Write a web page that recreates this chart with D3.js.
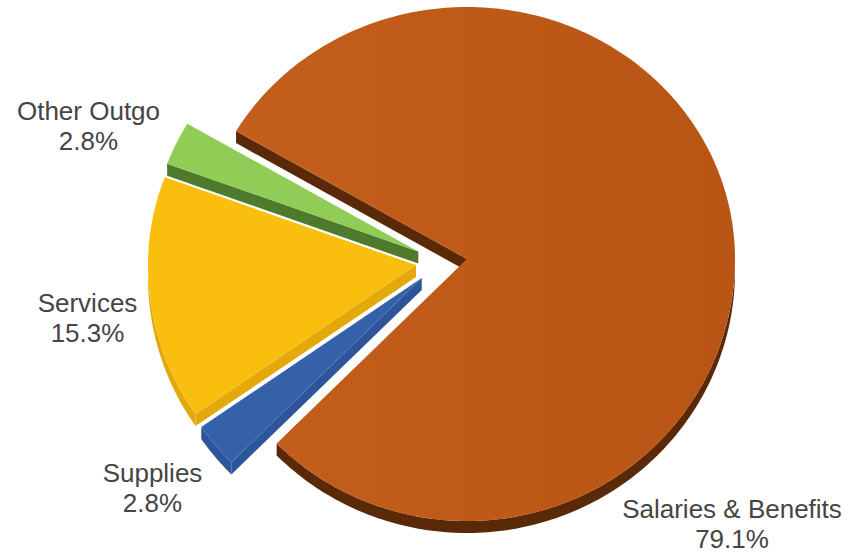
<!DOCTYPE html>
<html>
<head>
<meta charset="utf-8">
<script src="https://cdn.jsdelivr.net/npm/d3@7"></script>
<style>
  html, body { margin: 0; padding: 0; background: #ffffff; }
  svg { display: block; }
</style>
</head>
<body>
<svg id="chart" width="859" height="555"></svg>
<script>
// Spending breakdown, share of total (%)
const categories  = ["Salaries & Benefits", "Supplies", "Services", "Other Outgo"];
const shares      = [79.1, 2.8, 15.3, 2.8];
const valueLabels = ["79.1%", "2.8%", "15.3%", "2.8%"];

// Styling per category: top face and darker side walls
const topColors  = ["#C15B19", "#3461A8", "#FABE0F", "#91CD56"];
const wallColors = ["#5A2908", "#2C559B", "#E3A90A", "#4E7A2C"];

// Label placement (centre x, first baseline y)
const labelAnchors = [[732, 518], [152.5, 482], [87.5, 312], [88.5, 120]];

// Geometry of the tilted pie (far half slightly flatter than the near half)
const cx = 441.5, cy = 262;     // common centre before explosion
const rx = 268;                 // horizontal radius
const ryFar = 252, ryNear = 262;
const depth = 12;               // visible thickness of the disc
const explode = 25.7;           // offset of every slice along its bisector
const startDeg = 300.5;         // clockwise from 12 o'clock

const svg = d3.select("#chart");

const defs = svg.append("defs");
const grad = defs.append("linearGradient").attr("id", "topGrad0")
  .attr("x1", "0%").attr("x2", "100%").attr("y1", "0%").attr("y2", "0%");
grad.append("stop").attr("offset", "0%").attr("stop-color", "#C45E1C");
grad.append("stop").attr("offset", "100%").attr("stop-color", "#B85514");

const data = categories.map((c, i) => ({ name: c, v: shares[i], i }));

const a0 = startDeg * Math.PI / 180;
const pie = d3.pie().sort(null).value(d => d.v)
  .startAngle(a0).endAngle(a0 + 2 * Math.PI);
const arcs = pie(data);

const ryAt = a => (Math.cos(a) > 0 ? ryFar : ryNear);

// Point on the (offset) ellipse at pie angle a, dropped by dz
function pt(a, ox, oy, dz = 0) {
  return [ox + rx * Math.sin(a), oy - ryAt(a) * Math.cos(a) + dz];
}
function arcPoints(a, b, ox, oy, dz = 0) {
  const n = Math.max(2, Math.ceil(Math.abs(b - a) / (Math.PI / 180)));
  return d3.range(n + 1).map(k => pt(a + (b - a) * k / n, ox, oy, dz));
}
const line = d3.line();
const closed = pts => line(pts) + "Z";

// Slice origins after explosion
arcs.forEach(d => {
  const mid = (d.startAngle + d.endAngle) / 2;
  d.ox = cx + explode * Math.sin(mid);
  d.oy = cy - explode * (ryAt(mid) / rx) * Math.cos(mid);
});

// Visible parts of the outer rim: pie angles where cos(a) < 0 (front half)
function frontIntervals(s, e) {
  const out = [];
  const twoPi = 2 * Math.PI;
  for (let k = -2; k <= 3; k++) {
    const lo = Math.PI / 2 + k * twoPi, hi = 3 * Math.PI / 2 + k * twoPi;
    const a = Math.max(s, lo), b = Math.min(e, hi);
    if (b > a) out.push([a, b]);
  }
  return out;
}

const walls = svg.append("g").attr("class", "walls");
const tops = svg.append("g").attr("class", "tops");

// Walls: draw slices further back first
const byDepth = arcs.slice().sort((p, q) => p.oy - q.oy);
byDepth.forEach(d => {
  const col = wallColors[d.data.i];
  // radial wall on the start edge (faces the viewer when sin(a) < 0)
  if (Math.sin(d.startAngle) < 0) {
    const p = pt(d.startAngle, d.ox, d.oy);
    walls.append("path")
      .attr("d", closed([[d.ox, d.oy], p, [p[0], p[1] + depth], [d.ox, d.oy + depth]]))
      .attr("fill", col);
  }
  // radial wall on the end edge (faces the viewer when sin(a) > 0)
  if (Math.sin(d.endAngle) > 0) {
    const p = pt(d.endAngle, d.ox, d.oy);
    walls.append("path")
      .attr("d", closed([[d.ox, d.oy], p, [p[0], p[1] + depth], [d.ox, d.oy + depth]]))
      .attr("fill", col);
  }
  // outer rim
  frontIntervals(d.startAngle, d.endAngle).forEach(([s, e]) => {
    const upper = arcPoints(s, e, d.ox, d.oy);
    const lower = arcPoints(e, s, d.ox, d.oy, depth);
    walls.append("path").attr("d", closed(upper.concat(lower))).attr("fill", col);
  });
});

// Top faces
arcs.forEach(d => {
  const pts = [[d.ox, d.oy]].concat(arcPoints(d.startAngle, d.endAngle, d.ox, d.oy));
  tops.append("path")
    .attr("d", closed(pts))
    .attr("fill", d.data.i === 0 ? "url(#topGrad0)" : topColors[d.data.i]);
});

// Category labels with percentages
const labels = svg.append("g")
  .attr("font-family", "'Liberation Sans', Arial, Helvetica, sans-serif")
  .attr("font-size", 26)
  .attr("fill", "#454545")
  .attr("text-anchor", "middle");

data.forEach((d, i) => {
  const [x, y] = labelAnchors[i];
  const t = labels.append("text").attr("x", x).attr("y", y);
  t.append("tspan").attr("x", x).attr("y", y).text(d.name);
  t.append("tspan").attr("x", x).attr("y", y + 30).text(valueLabels[i]);
});
</script>
</body>
</html>
